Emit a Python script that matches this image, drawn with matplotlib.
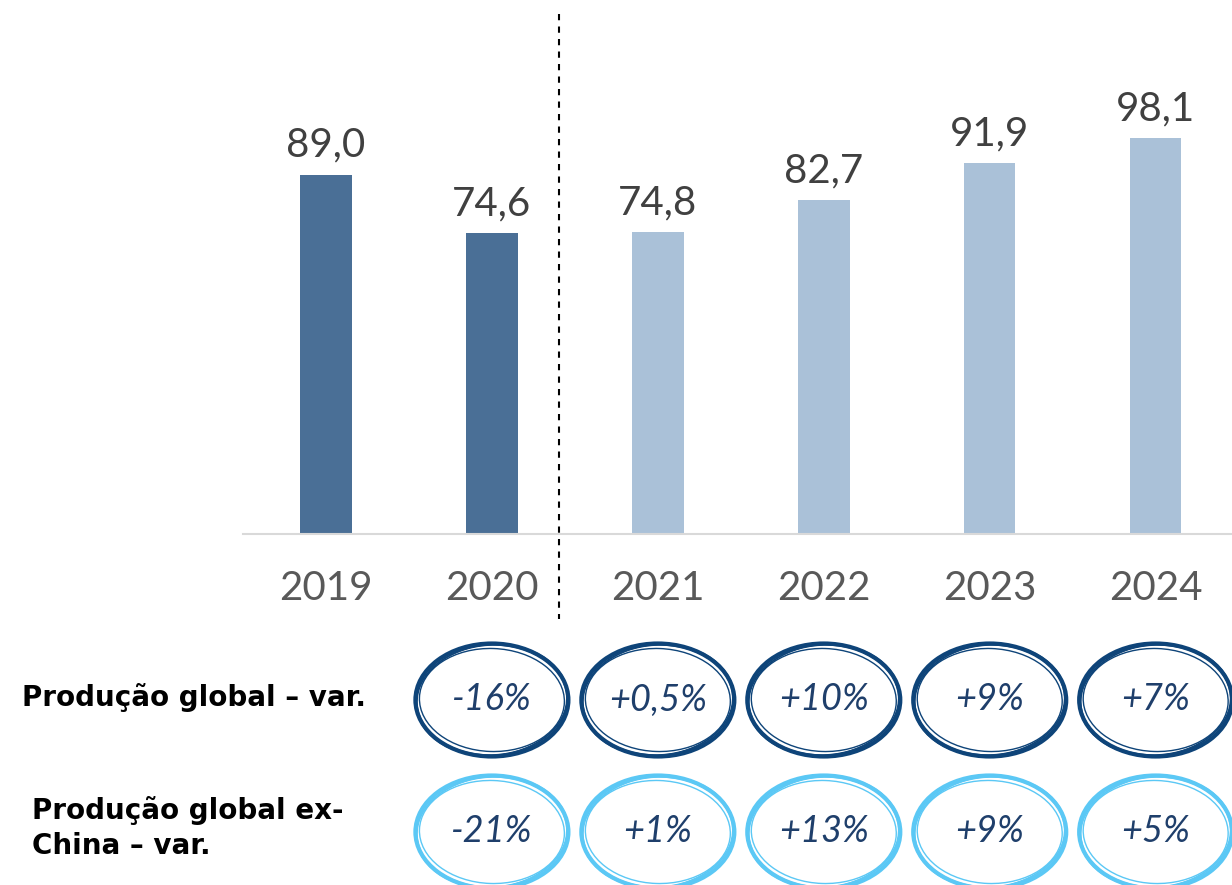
import matplotlib.pyplot as plt
from matplotlib.patches import Ellipse
from matplotlib.transforms import ScaledTranslation

# dados
anos = ["2019", "2020", "2021", "2022", "2023", "2024"]
producao = [89.0, 74.6, 74.8, 82.7, 91.9, 98.1]
realizado = [True, True, False, False, False, False]
var_anos = ["2020", "2021", "2022", "2023", "2024"]
var_global = ["-16%", "+0,5%", "+10%", "+9%", "+7%"]
var_ex_china = ["-21%", "+1%", "+13%", "+9%", "+5%"]

plt.rcParams['font.family'] = ['Lato', 'DejaVu Sans']

W, H = 1232, 885
fig = plt.figure(figsize=(W / 100, H / 100), dpi=100)

# grafico de barras
ax = fig.add_axes([243 / W, (H - 534) / H, 989 / W, 534 / H])
x = list(range(len(anos)))
cores = ["#4A6F96" if r else "#AAC1D8" for r in realizado]
bars = ax.bar(x, producao, width=0.31, color=cores)
ax.set_xlim(-0.5, 5.46)
ax.set_ylim(0, 132.4)

for bar, v in zip(bars, producao):
    ax.annotate(f"{v:.1f}".replace(".", ","),
                xy=(bar.get_x() + bar.get_width() / 2, bar.get_height()),
                xytext=(0, 8), textcoords="offset points",
                ha="center", va="bottom", fontsize=29, color="#404040")

ax.set_xticks(x)
ax.set_xticklabels(anos, fontsize=29, color="#595959")
ax.tick_params(axis="x", length=0, pad=26)
ax.set_yticks([])
for s in ["top", "left", "right"]:
    ax.spines[s].set_visible(False)
ax.spines["bottom"].set_color("#D9D9D9")
ax.spines["bottom"].set_linewidth(1.5)

# linha separando realizado / projecao
ax.plot([1.404, 1.404], [128.9, -21.0], color="black", lw=1.5,
        ls=(0, (3, 3)), clip_on=False)

# variacoes com elipses
ax2 = fig.add_axes([243 / W, 0, 989 / W, 245 / H])
ax2.set_xlim(-0.5, 5.46)
ax2.set_ylim(H, 640)
ax2.axis("off")

linhas = [(700, var_global, "#0E4479"), (832, var_ex_china, "#5BC8F5")]
# (largura, altura em polegadas, angulo, espessura)
tracos = [(1.53, 1.13, 0, 3.0), (1.50, 1.10, 3, 1.2), (1.45, 1.03, -2, 1.0),
          (1.52, 1.11, 6, 0.8)]
for yc, valores, cor in linhas:
    for ano, val in zip(var_anos, valores):
        xc = anos.index(ano)
        trans = fig.dpi_scale_trans + ScaledTranslation(xc, yc, ax2.transData)
        for w, h, ang, lw in tracos:
            ax2.add_patch(Ellipse((0, 0), w, h, angle=ang, fill=False,
                                  ec=cor, lw=lw, transform=trans,
                                  clip_on=False))
        ax2.text(xc, yc, val, ha="center", va="center", fontsize=26,
                 style="italic", color="#1F3F6B")

rot = dict(ha="left", va="center", fontsize=20, fontweight="bold",
           color="black", family=["DejaVu Sans"])
fig.text(22 / W, 1 - 698 / H, "Produção global – var.", **rot)
fig.text(32 / W, 1 - 828 / H, "Produção global ex-\nChina – var.",
         linespacing=1.3, **rot)

fig.savefig("out.png", dpi=100)
